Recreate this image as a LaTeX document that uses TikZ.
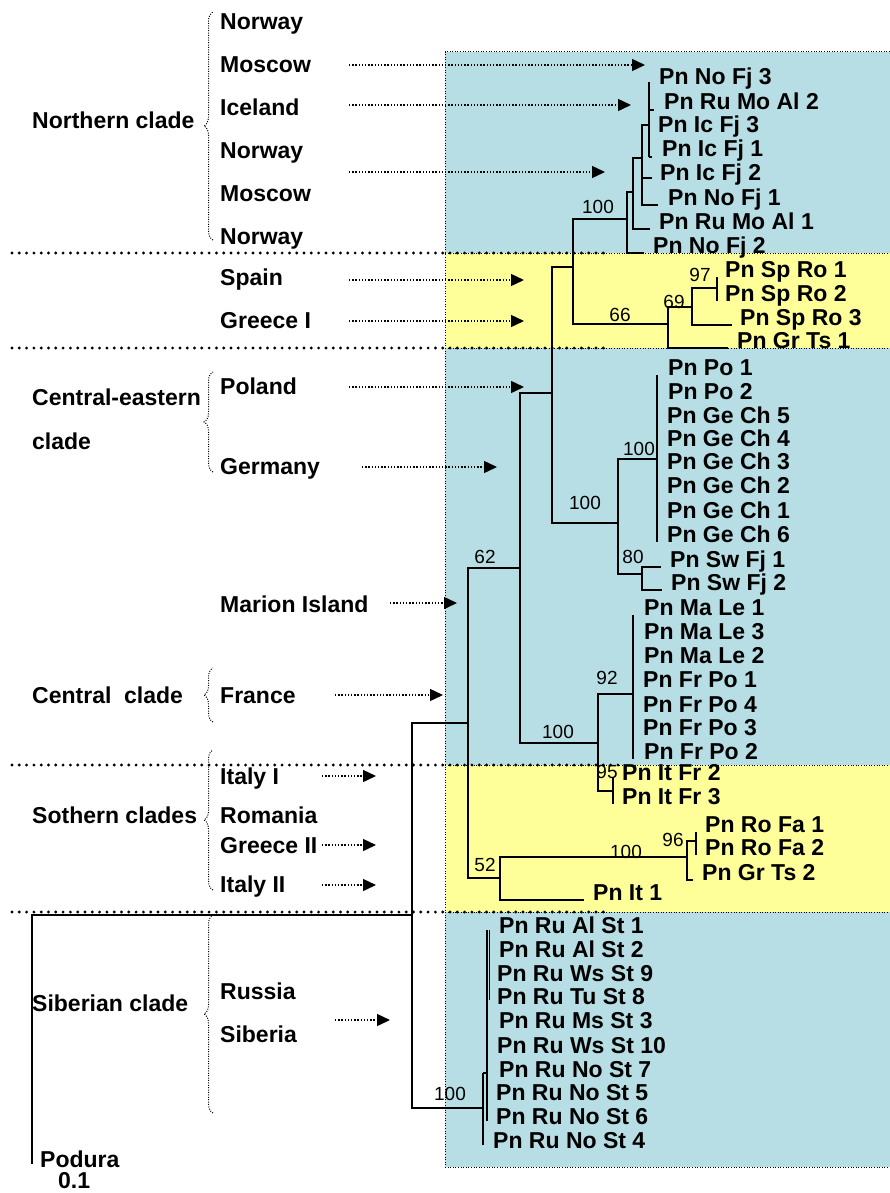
\documentclass[tikz,border=0pt]{standalone}
\usepackage{fontspec}
\setmainfont{Liberation Sans}
\usetikzlibrary{arrows.meta,decorations.pathreplacing}

\definecolor{panelblue}{RGB}{183,222,228}
\definecolor{panelyellow}{RGB}{255,255,153}

\tikzset{
  site/.style={anchor=base west, inner sep=0pt, font=\fontsize{23}{25}\selectfont\bfseries},
  leaf/.style={anchor=base west, inner sep=0pt, font=\fontsize{23}{25}\selectfont\bfseries},
  boot/.style={inner sep=0pt, font=\fontsize{19}{21}\selectfont},
  branch/.style={line width=1.3pt},
  locarrow/.style={line width=1.4pt, dash pattern=on 1.4pt off 1.8pt, -{Triangle[length=13pt,width=12pt]}},
  cladesep/.style={line width=3.2pt, dash pattern=on 0pt off 7.3pt, line cap=round},
  panelline/.style={line width=1pt, dash pattern=on 1pt off 1.6pt},
  bracket/.style={line width=1pt, dash pattern=on 1pt off 1.4pt, decorate, decoration={brace, amplitude=9pt}}
}

\begin{document}
\begin{tikzpicture}[x=1pt,y=-1pt]
  \useasboundingbox (0,0) rectangle (890,1193);

  % coloured panels
  \fill[panelblue]   (445,52)  rectangle (890,253);
  \fill[panelyellow] (445,253) rectangle (890,348);
  \fill[panelblue]   (445,348) rectangle (890,765);
  \fill[panelyellow] (445,765) rectangle (890,912);
  \fill[panelblue]   (445,912) rectangle (890,1167);
  \draw[panelline] (890,52) -- (445,52) -- (445,1167) -- (890,1167);
  \draw[panelline] (445,253) -- (890,253);
  \draw[panelline] (445,348) -- (890,348);
  \draw[panelline] (445,765) -- (890,765);
  \draw[panelline] (445,912) -- (890,912);
  \draw[cladesep] (12,253) -- (610,253);
  \draw[cladesep] (12,348) -- (610,348);
  \draw[cladesep] (12,765) -- (620,765);
  \draw[cladesep] (12,912) -- (607,912);

  % sampling sites
  \node[site] (sNorwayA) at (220,30)  {Norway};
  \node[site] (sMoscowA) at (220,73)  {Moscow};
  \node[site] (sIceland) at (220,116) {Iceland};
  \node[site] (sNorwayB) at (220,159) {Norway};
  \node[site] (sMoscowB) at (220,201) {Moscow};
  \node[site] (sNorwayC) at (220,244) {Norway};
  \node[site] (sSpain)   at (220,285) {Spain};
  \node[site] (sGreeceI) at (220,328) {Greece I};
  \node[site] (sPoland)  at (220,394) {Poland};
  \node[site] (sGermany) at (220,474) {Germany};
  \node[site] (sMarion)  at (220,612) {Marion Island};
  \node[site] (sFrance)  at (220,703) {France};
  \node[site] (sItalyI)  at (220,784) {Italy I};
  \node[site] (sRomania) at (220,823) {Romania};
  \node[site] (sGreeceII) at (220,853) {Greece II};
  \node[site] (sItalyII) at (220,892) {Italy II};
  \node[site] (sRussia)  at (220,999) {Russia};
  \node[site] (sSiberia) at (220,1042) {Siberia};

  % clade names
  \node[site] (cNorth)    at (32,129)  {Northern clade};
  \node[site] (cCentEast) at (32,405)  {Central-eastern};
  \node[site] (cCentEastB) at (32,449) {clade};
  \node[site] (cCentral)  at (32,703)  {Central\ \ clade};
  \node[site] (cSouth)    at (32,823)  {Sothern clades};
  \node[site] (cSiberia)  at (32,1011) {Siberian clade};
  \node[site] (Podura)    at (40,1167) {Podura};
  \node[site] (scale)     at (58,1188) {0.1};

  \draw[bracket] (213,240) -- (213,12);
  \draw[bracket] (213,472) -- (213,372);
  \draw[bracket] (213,722) -- (213,668);
  \draw[bracket] (213,890) -- (213,750);
  \draw[bracket] (213,1113) -- (213,915);

  % haplotypes
  \node[leaf] (NoFj3)   at (659,85)  {Pn No Fj 3};
  \node[leaf] (RuMoAl2) at (664,110) {Pn Ru Mo Al 2};
  \node[leaf] (IcFj3)   at (658,133) {Pn Ic Fj 3};
  \node[leaf] (IcFj1)   at (662,157) {Pn Ic Fj 1};
  \node[leaf] (IcFj2)   at (660,181) {Pn Ic Fj 2};
  \node[leaf] (NoFj1)   at (668,205) {Pn No Fj 1};
  \node[leaf] (RuMoAl1) at (659,229) {Pn Ru Mo Al 1};
  \node[leaf] (NoFj2)   at (653,253) {Pn No Fj 2};
  \node[leaf] (SpRo1)   at (725,277) {Pn Sp Ro 1};
  \node[leaf] (SpRo2)   at (725,301) {Pn Sp Ro 2};
  \node[leaf] (SpRo3)   at (740,325) {Pn Sp Ro 3};
  \node[leaf] (GrTs1)   at (737,348) {Pn Gr Ts 1};
  \node[leaf] (Po1)     at (668,375) {Pn Po 1};
  \node[leaf] (Po2)     at (668,399) {Pn Po 2};
  \node[leaf] (GeCh5)   at (667,423) {Pn Ge Ch 5};
  \node[leaf] (GeCh4)   at (667,446) {Pn Ge Ch 4};
  \node[leaf] (GeCh3)   at (667,469) {Pn Ge Ch 3};
  \node[leaf] (GeCh2)   at (667,493) {Pn Ge Ch 2};
  \node[leaf] (GeCh1)   at (667,518) {Pn Ge Ch 1};
  \node[leaf] (GeCh6)   at (667,542) {Pn Ge Ch 6};
  \node[leaf] (SwFj1)   at (670,567) {Pn Sw Fj 1};
  \node[leaf] (SwFj2)   at (671,590) {Pn Sw Fj 2};
  \node[leaf] (MaLe1)   at (644,615) {Pn Ma Le 1};
  \node[leaf] (MaLe3)   at (644,639) {Pn Ma Le 3};
  \node[leaf] (MaLe2)   at (644,663) {Pn Ma Le 2};
  \node[leaf] (FrPo1)   at (643,687) {Pn Fr Po 1};
  \node[leaf] (FrPo4)   at (643,712) {Pn Fr Po 4};
  \node[leaf] (FrPo3)   at (643,735) {Pn Fr Po 3};
  \node[leaf] (FrPo2)   at (644,759) {Pn Fr Po 2};
  \node[leaf] (ItFr2)   at (622,780) {Pn It Fr 2};
  \node[leaf] (ItFr3)   at (622,804) {Pn It Fr 3};
  \node[leaf] (RoFa1)   at (705,832) {Pn Ro Fa 1};
  \node[leaf] (RoFa2)   at (705,855) {Pn Ro Fa 2};
  \node[leaf] (GrTs2)   at (702,880) {Pn Gr Ts 2};
  \node[leaf] (It1)     at (593,900) {Pn It 1};
  \node[leaf] (AlSt1)   at (499,933)  {Pn Ru Al St 1};
  \node[leaf] (AlSt2)   at (499,957)  {Pn Ru Al St 2};
  \node[leaf] (WsSt9)   at (497,981)  {Pn Ru Ws St 9};
  \node[leaf] (TuSt8)   at (497,1004) {Pn Ru Tu St 8};
  \node[leaf] (MsSt3)   at (499,1028) {Pn Ru Ms St 3};
  \node[leaf] (WsSt10)  at (497,1053) {Pn Ru Ws St 10};
  \node[leaf] (NoSt7)   at (499,1077) {Pn Ru No St 7};
  \node[leaf] (NoSt5)   at (496,1100) {Pn Ru No St 5};
  \node[leaf] (NoSt6)   at (496,1124) {Pn Ru No St 6};
  \node[leaf] (NoSt4)   at (493,1148) {Pn Ru No St 4};

  % tree
  \coordinate (root) at (412,915);
  \coordinate (nA)  at (468,723);
  \coordinate (nS)  at (483,1108);
  \coordinate (nB)  at (520,568);
  \coordinate (nC)  at (500,878);
  \coordinate (nD)  at (552,393);
  \coordinate (nE)  at (598,743);
  \coordinate (nF)  at (573,267);
  \coordinate (nG)  at (618,523);
  \coordinate (nH)  at (627,219);
  \coordinate (nI)  at (668,324);
  \coordinate (nH2) at (633,192);
  \coordinate (nH3) at (642,158);
  \coordinate (nH4) at (649,125);
  \coordinate (nJ)  at (692,307);
  \coordinate (nK)  at (717,288);
  \coordinate (nL)  at (657,459);
  \coordinate (nM)  at (642,574);
  \coordinate (nN)  at (633,694);
  \coordinate (nO)  at (613,791);
  \coordinate (nP)  at (687,857);
  \coordinate (nQ)  at (696,841);
  \coordinate (nS2) at (487,1073);
  \coordinate (nS3) at (489,1000);

  \draw[branch] (root) |- (nA);
  \draw[branch] (root) |- (nS);
  \draw[branch] (root) -| ([xshift=-8pt,yshift=3pt]Podura.base west);
  \draw[branch] (nA) |- (nB);
  \draw[branch] (nA) |- (nC);
  \draw[branch] (nB) |- (nD);
  \draw[branch] (nB) |- (nE);
  \draw[branch] (nD) |- (nF);
  \draw[branch] (nD) |- (nG);
  \draw[branch] (nF) |- (nH);
  \draw[branch] (nF) |- (nI);
  \draw[branch] (nH) |- (nH2);
  \draw[branch] (nH) |- ([xshift=-9pt]NoFj2.base west);
  \draw[branch] (nH2) |- (nH3);
  \draw[branch] (nH2) |- ([xshift=-9pt]RuMoAl1.base west);
  \draw[branch] (nH3) |- (nH4);
  \draw[branch] (nH3) |- ([xshift=-8pt,yshift=3pt]IcFj2.base west);
  \draw[branch] (nH3) |- ([xshift=-10pt]NoFj1.base west);
  \draw[branch] (nH4 |- NoFj3.mid) -- (nH4 |- IcFj1.base);
  \draw[branch] (nH4 |- RuMoAl2.base) -- ([xshift=-10pt]RuMoAl2.base west);
  \draw[branch] (nH4 |- IcFj1.base) -- ([xshift=-10pt]IcFj1.base west);
  \draw[branch] (nI) |- (nJ);
  \draw[branch] (nI) |- ([xshift=-9pt]GrTs1.base west);
  \draw[branch] (nJ) |- (nK);
  \draw[branch] (nJ) |- ([xshift=-8pt]SpRo3.base west);
  \draw[branch] (nK |- SpRo1.base) -- (nK |- SpRo2.base);
  \draw[branch] (nG) |- (nL);
  \draw[branch] (nG) |- (nM);
  \draw[branch] (nL |- Po1.base) -- (nL |- GeCh6.base);
  \draw[line width=2.4pt] (nL |- Po1.base) -- (nL |- Po2.mid);
  \draw[branch] (nM) |- ([xshift=-9pt]SwFj1.base west);
  \draw[branch] (nM) |- ([xshift=-9pt]SwFj2.base west);
  \draw[branch] (nE) |- (nN);
  \draw[branch] (nE) |- (nO);
  \draw[branch] (nN |- MaLe1.base) -- (nN |- FrPo2.base);
  \draw[line width=2.4pt] (nN |- MaLe3.base) -- (nN |- MaLe2.base);
  \draw[branch] (nO |- ItFr2.mid) -- (nO |- ItFr3.base);
  \draw[branch] (nC) |- (nP);
  \draw[branch] (nC) |- ([xshift=-9pt]It1.base west);
  \draw[branch] (nP) |- (nQ);
  \draw[branch] (nP) |- ([xshift=-9pt]GrTs2.base west);
  \draw[branch] (nQ |- RoFa1.base) -- (nQ |- RoFa2.base);
  \draw[branch] (nS |- nS2) -- (nS |- NoSt4.mid);
  \draw[branch] (nS |- nS2) -- (nS2);
  \draw[branch] (nS2 |- AlSt1.mid) -- (nS2 |- NoSt6.mid);
  \draw[line width=0.8pt] (nS3 |- AlSt1.mid) -- (nS3);

  % bootstrap values
  \node[boot] (b1)  at (598,207)  {100};
  \node[boot] (b2)  at (620,315)  {66};
  \node[boot] (b3)  at (674,302)  {69};
  \node[boot] (b4)  at (700,275)  {97};
  \node[boot] (b5)  at (639,449)  {100};
  \node[boot] (b6)  at (585,503)  {100};
  \node[boot] (b7)  at (633,557)  {80};
  \node[boot] (b8)  at (485,557)  {62};
  \node[boot] (b9)  at (607,678)  {92};
  \node[boot] (b10) at (558,732)  {100};
  \node[boot] (b11) at (607,772)  {95};
  \node[boot] (b12) at (626,852)  {100};
  \node[boot] (b13) at (673,840)  {96};
  \node[boot] (b14) at (485,865)  {52};
  \node[boot] (b15) at (450,1094) {100};

  % site arrows
  \coordinate (a1)  at (349,65);   \coordinate (e1)  at (645,65);
  \coordinate (a2)  at (349,105);  \coordinate (e2)  at (631,105);
  \coordinate (a3)  at (349,172);  \coordinate (e3)  at (605,172);
  \coordinate (a4)  at (349,280);  \coordinate (e4)  at (524,280);
  \coordinate (a5)  at (349,321);  \coordinate (e5)  at (524,321);
  \coordinate (a6)  at (349,387);  \coordinate (e6)  at (524,387);
  \coordinate (a7)  at (362,467);  \coordinate (e7)  at (497,467);
  \coordinate (a8)  at (390,603);  \coordinate (e8)  at (457,603);
  \coordinate (a9)  at (335,695);  \coordinate (e9)  at (443,695);
  \coordinate (a10) at (322,776);  \coordinate (e10) at (376,776);
  \coordinate (a11) at (322,845);  \coordinate (e11) at (376,845);
  \coordinate (a12) at (322,885);  \coordinate (e12) at (376,885);
  \coordinate (a13) at (335,1020); \coordinate (e13) at (390,1020);
  \draw[locarrow] (a1) -- (e1);
  \draw[locarrow] (a2) -- (e2);
  \draw[locarrow] (a3) -- (e3);
  \draw[locarrow] (a4) -- (e4);
  \draw[locarrow] (a5) -- (e5);
  \draw[locarrow] (a6) -- (e6);
  \draw[locarrow] (a7) -- (e7);
  \draw[locarrow] (a8) -- (e8);
  \draw[locarrow] (a9) -- (e9);
  \draw[locarrow] (a10) -- (e10);
  \draw[locarrow] (a11) -- (e11);
  \draw[locarrow] (a12) -- (e12);
  \draw[locarrow] (a13) -- (e13);
\end{tikzpicture}
\end{document}
